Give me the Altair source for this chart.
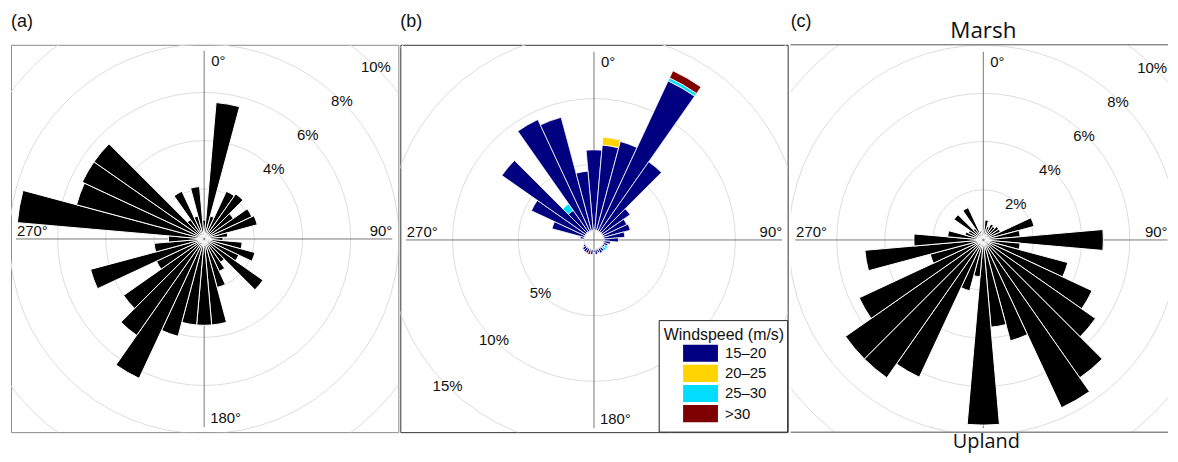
import altair as alt
import pandas as pd

# ---------------- data ----------------
dirs = list(range(0, 360, 10))

# panel (a): frequency (%) per 10-degree direction bin
freq_a = [0.7, 5.6, 0.9, 2.1, 2.2, 1.4, 2.1, 2.2, 0.9, 0.7,
          1.5, 2.1, 1.5, 2.9, 1.1, 1.4, 2.0, 3.5, 3.5, 3.5,
          4.1, 6.3, 4.8, 4.0, 2.1, 4.8, 2.0, 1.4, 7.7, 5.4,
          5.5, 5.5, 0.9, 2.1, 0.9, 2.1]

# panel (c): frequency (%) per direction bin
freq_c = [0.3, 0.75, 0.5, 0.65, 0.6, 0.7, 0.7, 2.1, 1.45, 4.9,
          1.45, 3.55, 4.9, 5.6, 6.9, 7.6, 4.25, 3.55, 7.6, 1.45,
          2.1, 6.2, 6.9, 6.9, 5.6, 2.2, 4.85, 2.8, 1.4, 0.7,
          0.6, 1.4, 0.5, 1.4, 0.3, 0.3]

# panel (b): stacked frequency (%) by wind speed class
speed_bins = ["15–20", "20–25", "25–30", ">30"]
speed_colors = ["#000080", "#FFD400", "#00DDFF", "#7F0000"]
b_15_20 = [6.1, 6.5, 7.0, 12.6, 6.5, 2.6, 2.0, 2.1, 1.6, 1.1,
           0.5, 0.35, 0.15, 0.1, 0.3, 0.35, 0.25, 0.35, 0.2, 0.35,
           0.05, 0.35, 0.35, 0.3, 0.15, 0.0, 0.0, 0.1, 0.3, 2.55,
           4.5, 7.8, 2.0, 9.35, 8.9, 4.5]
b_20_25 = [0.0, 0.6, 0.0, 0.0, 0.0, 0.0, 0.0, 0.0, 0.0, 0.0,
           0.0, 0.0, 0.0, 0.0, 0.0, 0.0, 0.0, 0.0, 0.0, 0.0,
           0.0, 0.0, 0.0, 0.0, 0.0, 0.0, 0.0, 0.0, 0.0, 0.0,
           0.0, 0.0, 0.0, 0.0, 0.0, 0.0]
b_25_30 = [0.0, 0.0, 0.0, 0.25, 0.0, 0.0, 0.0, 0.0, 0.0, 0.0,
           0.0, 0.0, 0.25, 0.3, 0.0, 0.0, 0.0, 0.0, 0.0, 0.0,
           0.0, 0.0, 0.0, 0.0, 0.0, 0.0, 0.0, 0.0, 0.0, 0.0,
           0.0, 0.0, 0.6, 0.0, 0.0, 0.0]
b_gt30 = [0.0, 0.0, 0.0, 0.6, 0.0, 0.0, 0.0, 0.0, 0.0, 0.0,
          0.0, 0.0, 0.0, 0.0, 0.0, 0.0, 0.0, 0.0, 0.0, 0.0,
          0.35, 0.0, 0.0, 0.0, 0.0, 0.0, 0.0, 0.0, 0.0, 0.0,
          0.0, 0.0, 0.0, 0.0, 0.0, 0.0]

rings_ac = [2, 4, 6, 8, 10]
ring_labels_a = [4, 6, 8, 10]
ring_labels_c = [2, 4, 6, 8, 10]
rings_b = [5, 10, 15, 20]
ring_labels_b = [5, 10, 15]

# ---------------- helpers ----------------
TAU = 6.283185307179586
W, H = 389, 389
FONT = "Liberation Sans"
TFONT = "Open Sans"
one = pd.DataFrame({"k": [0]})


def theta_sc():
    return alt.Scale(domain=[0, 360], range=[0, TAU])


def single_bars(vals):
    return pd.DataFrame({"t0": [d - 5 for d in dirs], "t1": [d + 5 for d in dirs],
                         "r0": [0.0] * len(dirs), "r1": vals})


def stacked_bars():
    rows = []
    series = [b_15_20, b_20_25, b_25_30, b_gt30]
    for i, d in enumerate(dirs):
        cum = 0.0
        for k, arr in enumerate(series):
            v = arr[i]
            if v > 0:
                rows.append({"t0": d - 5, "t1": d + 5, "r0": cum, "r1": cum + v,
                             "spd": speed_bins[k]})
                cum += v
    return pd.DataFrame(rows)


def label(text, x, y, align="left", baseline="middle", size=15, font=FONT):
    return alt.Chart(one).mark_text(text=text, align=align, baseline=baseline,
                                    fontSize=size, font=font, color="#111").encode(
        x=alt.value(x), y=alt.value(y))


def polar_layers(bar_df, r_dom, r_rng, cx, cy, rings, labs, lab_theta,
                 colored=False, stroke_w=1.0, show180=True, right_len=189,
                 lab_dx=0):
    r_sc = alt.Scale(type="linear", domain=r_dom, range=r_rng)
    ring_df = pd.DataFrame({"t0": [0] * len(rings), "t1": [360] * len(rings), "r1": rings})
    ring_layer = alt.Chart(ring_df).mark_arc(filled=False, stroke="#dcdcdc",
                                            strokeWidth=1, clip=True).encode(
        theta=alt.Theta("t0:Q", scale=theta_sc(), stack=False),
        theta2="t1:Q",
        radius=alt.Radius("r1:Q", scale=r_sc, stack=False),
        x=alt.value(cx), y=alt.value(cy))

    vline = alt.Chart(one).mark_rule(color="#777777", strokeWidth=1).encode(
        x=alt.value(cx), y=alt.value(cy - 189), y2=alt.value(cy + 189))
    hline = alt.Chart(one).mark_rule(color="#777777", strokeWidth=1).encode(
        y=alt.value(cy), x=alt.value(cx - 189), x2=alt.value(cx + right_len))

    lab_df = pd.DataFrame({"t0": [lab_theta] * len(labs), "r1": labs,
                           "txt": [f"{v}%" for v in labs]})
    ring_text = alt.Chart(lab_df).mark_text(fontSize=15, font=FONT, color="#111",
                                           align="center", baseline="middle",
                                           dx=lab_dx).encode(
        theta=alt.Theta("t0:Q", scale=theta_sc(), stack=False),
        radius=alt.Radius("r1:Q", scale=r_sc, stack=False),
        text="txt:N", x=alt.value(cx), y=alt.value(cy))

    dir_labels = [
        label("0°", cx + 7, cy - 179),
        label("90°", cx + min(190, right_len), cy - 8, align="right"),
        label("270°", cx - 188, cy - 8),
    ]
    if show180:
        dir_labels.append(label("180°", cx + 6, cy + 180))

    enc = dict(
        theta=alt.Theta("t0:Q", scale=theta_sc(), stack=False),
        theta2="t1:Q",
        radius=alt.Radius("r1:Q", scale=r_sc, stack=False),
        radius2="r0:Q",
        x=alt.value(cx), y=alt.value(cy))
    if colored:
        bars = alt.Chart(bar_df).mark_arc(stroke="white", strokeWidth=stroke_w).encode(
            color=alt.Color("spd:N", scale=alt.Scale(domain=speed_bins, range=speed_colors),
                            legend=None), **enc)
    else:
        bars = alt.Chart(bar_df).mark_arc(color="black", stroke="white",
                                         strokeWidth=stroke_w).encode(**enc)
    return [ring_layer, vline, hline, ring_text] + dir_labels + [bars]


LET_Y = -18      # baseline of the panel letters, relative to the frame top
LET_SIZE = 18

# ---------------- panel (a) ----------------
ax, ay = 194, 195
layers_a = polar_layers(single_bars(freq_a), [0, 10], [2, 244], ax, ay,
                        rings_ac, ring_labels_a, 45)
layers_a.append(label("(a)", 0, LET_Y, baseline="alphabetic", size=LET_SIZE))
panel_a = alt.layer(*layers_a).properties(
    width=W, height=H, view=alt.ViewBackground(stroke="#8a8a8a", strokeWidth=1))

# ---------------- panel (b) ----------------
bx, by = 194.5, 196
layers_b = polar_layers(stacked_bars(), [0, 20], [10, 274], bx, by,
                        rings_b, ring_labels_b, 225, colored=True, stroke_w=0.8)
layers_b.append(label("(b)", 0, LET_Y, baseline="alphabetic", size=LET_SIZE))

leg_box = alt.Chart(one).mark_rect(fill="white", stroke="#222222", strokeWidth=1).encode(
    x=alt.value(260), x2=alt.value(389), y=alt.value(277), y2=alt.value(389))
leg_title = label("Windspeed (m/s)", 325, 291, align="center", size=16)
leg_df = pd.DataFrame({"spd": speed_bins})
leg_y = alt.Y("spd:N", axis=None,
              scale=alt.Scale(type="band", domain=speed_bins, range=[301.2, 378.97],
                              paddingInner=0.15, paddingOuter=0))
leg_sw = alt.Chart(leg_df).mark_rect().encode(
    y=leg_y, x=alt.value(284), x2=alt.value(319),
    color=alt.Color("spd:N", scale=alt.Scale(domain=speed_bins, range=speed_colors),
                    legend=None))
leg_lab = alt.Chart(leg_df).mark_text(align="left", baseline="middle", fontSize=15,
                                      font=FONT, color="#111").encode(
    y=leg_y, x=alt.value(326), text="spd:N")
layers_b += [leg_box, leg_title, leg_sw, leg_lab]
panel_b = alt.layer(*layers_b).properties(
    width=W, height=H, view=alt.ViewBackground(stroke="#333333", strokeWidth=1))

# ---------------- panel (c) ----------------
WC = 379
cx_, cy_ = 193.5, 196
layers_c = polar_layers(single_bars(freq_c), [0, 10], [2, 244], cx_, cy_,
                        rings_ac, ring_labels_c, 45, show180=False,
                        right_len=185, lab_dx=-3)
frame_top = alt.Chart(one).mark_rule(color="#555555", strokeWidth=1).encode(
    x=alt.value(0), x2=alt.value(WC), y=alt.value(0))
frame_bot = alt.Chart(one).mark_rule(color="#8a8a8a", strokeWidth=1.5).encode(
    x=alt.value(0), x2=alt.value(WC), y=alt.value(H))
layers_c += [frame_top, frame_bot,
             label("(c)", 0, LET_Y, baseline="alphabetic", size=LET_SIZE),
             label("Marsh", cx_, -6.5, align="center", baseline="alphabetic",
                   size=22.5, font=TFONT),
             label("Upland", cx_ + 3, 405, align="center", baseline="alphabetic",
                   size=20, font=TFONT)]
panel_c = alt.layer(*layers_c).properties(
    width=WC, height=H, view=alt.ViewBackground(stroke="transparent"))

chart = alt.hconcat(panel_a, panel_b, panel_c, spacing=0).properties(
    padding={"left": 2, "top": 3, "right": 0, "bottom": 2}
).configure_view(strokeWidth=1)

chart.save("out.html", embed_options={"renderer": "svg", "actions": False})
